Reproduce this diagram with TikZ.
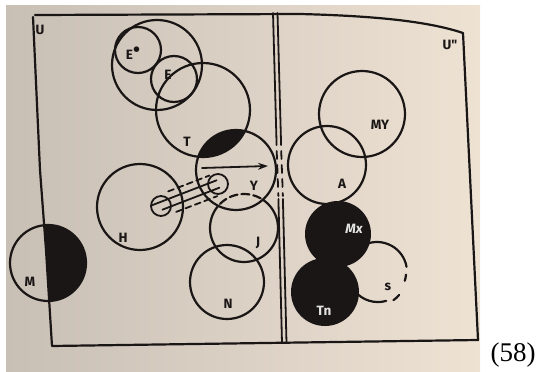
\documentclass[tikz,border=0pt]{standalone}
\usepackage{fontspec}
\setmainfont{Liberation Serif}
\newfontfamily\handfont{Fira Sans}
\usetikzlibrary{arrows.meta}

\definecolor{paperL}{RGB}{200,191,181}
\definecolor{paperR}{RGB}{238,226,211}
\definecolor{ink}{RGB}{26,22,22}

\begin{document}
\begin{tikzpicture}[x=1pt,y=-1pt,
  inkline/.style={draw=ink, line width=2.2pt, line cap=round, line join=round},
  thinink/.style={inkline, line width=1.8pt},
  blob/.style={fill=ink},
  lbl/.style={font=\handfont\bfseries\fontsize{13.5}{13.5}\selectfont, text=ink, inner sep=0pt},
  wlbl/.style={lbl, text=white!88!ink},
]
\useasboundingbox (0,0) rectangle (541,372);
\fill[white] (0,0) rectangle (541,372);
\shade[left color=paperL, right color=paperR] (6,5) rectangle (480,372);

% universe frame
\draw[inkline] (33,17) -- (40,170) -- (46,250) -- (52,346) -- (478,340) -- (463,33)
  .. controls (430,22) and (380,16) .. (300,14) -- (35,15);

% the double wall between the two universes, broken in the middle
\foreach \dx in {0,4.5}{
  \draw[thinink] (273+\dx,13) -- (276.6+\dx,145);
  \draw[thinink, dash pattern=on 8pt off 6pt] (276.7+\dx,151) -- (278.4+\dx,196);
  \draw[thinink] (278.4+\dx,199) -- (282+\dx,343);
}

% left universe
\draw[inkline] (157,65) circle (45pt);
\draw[inkline] (138,50) circle (23pt);
\draw[inkline] (174,79) circle (23pt);
\draw[inkline] (203,110) circle (47pt);
\begin{scope}
  \clip (203,110) circle (47pt);
  \fill[blob] (236,170) circle (40pt);
\end{scope}
\draw[inkline] (236,170) circle (40pt);
\draw[inkline] (140,207) circle (43pt);

% M, half shaded beyond the frame
\begin{scope}
  \clip (48,263) circle (38pt);
  \fill[blob] (40,170) -- (46,250) -- (52,346) -- (120,346) -- (120,170) -- cycle;
\end{scope}
\draw[inkline] (48,263) circle (38pt);

% J: hidden part inside Y is dashed
\begin{scope}[even odd rule]
  \clip (0,0) rectangle (541,372) (236,170) circle (40pt);
  \draw[inkline] (244,228) circle (34pt);
\end{scope}
\begin{scope}
  \clip (236,170) circle (40pt);
  \draw[inkline, dash pattern=on 8pt off 4pt] (244,228) circle (34pt);
\end{scope}
\draw[inkline] (227,282) circle (37pt);

% arrow across Y
\coordinate (arrS) at (202,168);
\coordinate (arrE) at (268,166);
\draw[thinink, -{Stealth[length=10pt,width=7pt]}] (arrS) -- (arrE);

% tube from H to Y
\coordinate (tubeL) at (161,206);
\coordinate (tubeR) at (218,184);
\draw[thinink] (tubeL) circle (10pt);
\draw[thinink] (tubeR) circle (10pt);
\draw[thinink] (152.1,205.2) -- (216.6,180.3);
\draw[thinink] (162.4,209.7) -- (219.4,187.7);
\draw[thinink, dash pattern=on 6pt off 4pt] (168.2,191.4) -- (209.4,175.5);
\draw[thinink, dash pattern=on 6pt off 4pt] (176.2,211.9) -- (217.3,196.1);

% right universe
\draw[inkline] (362,114) circle (43pt);
\draw[inkline] (327,165) circle (39pt);
% S, partly broken
\draw[inkline] (362.0,246.0) arc[start angle=120, end angle=10, radius=30pt];
\draw[inkline] (406.0,274.6) arc[start angle=-5, end angle=-17, radius=30pt];
\draw[inkline] (399.2,294.9) arc[start angle=-40, end angle=-55, radius=30pt];
\draw[inkline] (386.2,300.9) arc[start angle=-74, end angle=-140, radius=30pt];
\fill[blob] (338,234) circle (33pt);
\fill[blob] (325,292) circle (34pt);

% labels
\node[lbl] (lU) at (40,30) {U};
\node[lbl] (lUU) at (450,45) {U"};
\node[lbl] (lEp) at (133,53) {E\raisebox{3pt}{\fontsize{20}{20}\selectfont\textbullet}};
\node[lbl] (lE) at (168,75) {E};
\node[lbl] (lT) at (187,142) {T};
\node[lbl] (lY) at (254,186) {Y};
\node[lbl] (lH) at (123,238) {H};
\node[lbl] (lM) at (30,282) {M};
\node[lbl] (lJ) at (258,243) {J};
\node[lbl] (lN) at (228,304) {N};
\node[lbl] (lMY) at (380,125) {MY};
\node[lbl] (lA) at (342,184) {A};
\node[wlbl] (lMx) at (354,229) {\itshape Mx};
\node[wlbl] (lTn) at (324,311) {Tn};
\node[lbl] (lS) at (388,287) {s};
\node[font=\fontsize{27}{27}\selectfont, inner sep=0pt] (num) at (513,355) {(58)};
\end{tikzpicture}
\end{document}
